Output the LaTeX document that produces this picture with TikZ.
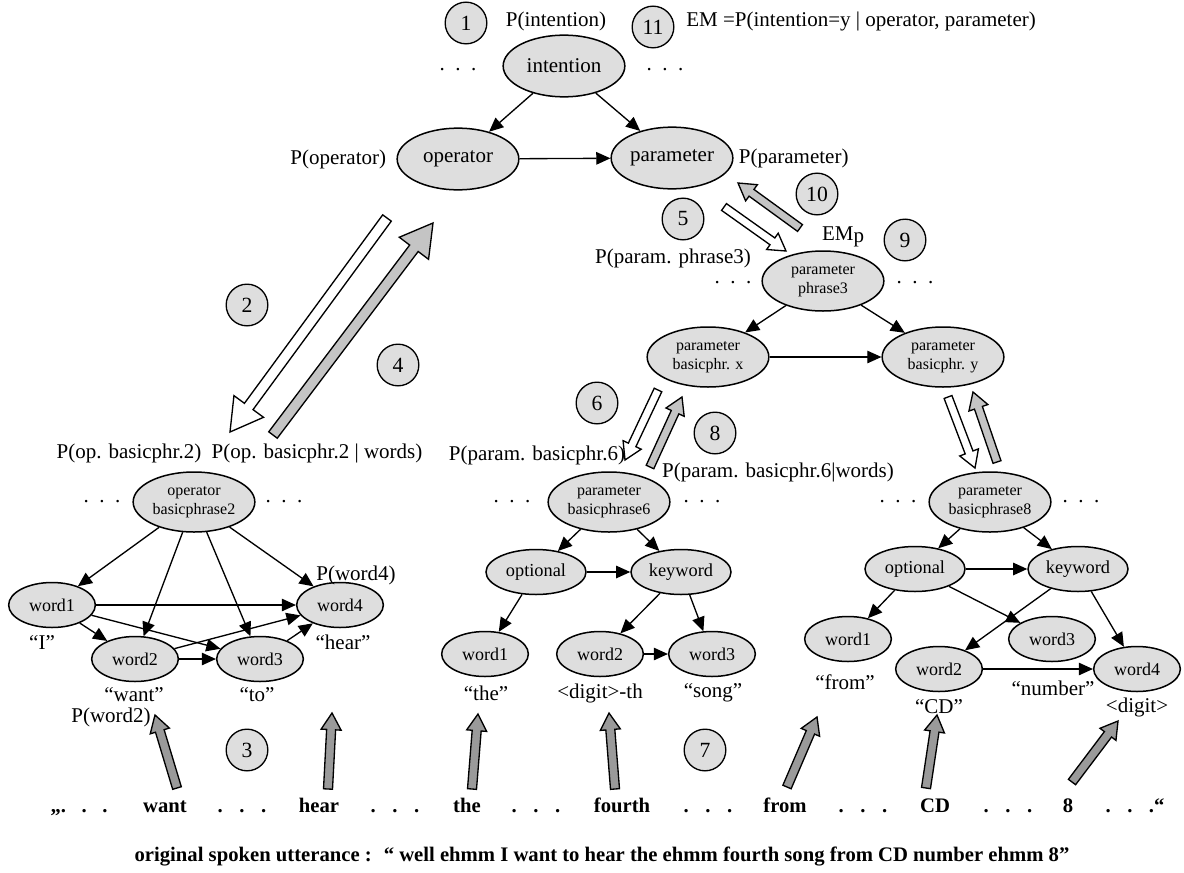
\documentclass[tikz,border=0pt]{standalone}
\usepackage{fontspec}
\setmainfont{Liberation Serif}
\usepackage{tikz}
\usetikzlibrary{shapes.geometric, arrows.meta, positioning, calc}
\definecolor{NodeGray}{HTML}{DEDEDE}
\definecolor{PassGray}{HTML}{C4C4C4}
\definecolor{WordGray}{HTML}{9A9A9A}
\newcommand\tdots[1]{.\hspace{#1}.\hspace{#1}.}
% fill, half shaft, half head, head length, tail, tip
\newcommand\blockarrow[6]{%
  \coordinate (hbase) at ($(#6)!#4!(#5)$);
  \filldraw[fill=#1, line width=0.8pt, line join=miter]
    ($(#5)!#2!90:(#6)$) -- ($(hbase)!#2!90:(#6)$) -- ($(hbase)!#3!90:(#6)$) -- (#6)
    -- ($(hbase)!#3!-90:(#6)$) -- ($(hbase)!#2!-90:(#6)$) -- ($(#5)!#2!-90:(#6)$) -- cycle;}

\begin{document}
\begin{tikzpicture}[x=0.6pt, y=-0.6pt,
  lbl/.style={font=\fontsize{12.6}{14}\selectfont, inner sep=0pt},
  num/.style={circle, draw, fill=NodeGray, line width=0.8pt, minimum size=25pt,
              inner sep=0pt, font=\fontsize{13}{14}\selectfont},
  bignode/.style={ellipse, draw, fill=NodeGray, line width=0.9pt, minimum width=73pt,
                  minimum height=37pt, inner sep=0pt, font=\fontsize{12.6}{14}\selectfont},
  phrnode/.style={ellipse, draw, fill=NodeGray, line width=0.9pt, minimum width=73pt,
                  minimum height=36pt, inner sep=0pt, align=center,
                  font=\fontsize{9.6}{11.4}\selectfont},
  midnode/.style={ellipse, draw, fill=NodeGray, line width=0.9pt, minimum width=60pt,
                  minimum height=27pt, inner sep=0pt, font=\fontsize{11}{13}\selectfont},
  wordnode/.style={ellipse, draw, fill=NodeGray, line width=0.9pt, minimum width=52pt,
                   minimum height=27pt, inner sep=0pt, font=\fontsize{10.8}{12}\selectfont},
  arr/.style={-{Triangle[length=8.5pt,width=7.5pt]}, line width=0.8pt},
  spoken/.style={font=\fontsize{12.4}{14}\selectfont\bfseries, inner sep=0pt, anchor=base}
]
  \useasboundingbox (0,0) rectangle (1184,872);

  % intention level
  \node[bignode] (intent) at (564,66) {intention};
  \node[bignode] (oper) at (458,159) {operator};
  \node[bignode] (param) at (672,158) {parameter};
  \node[lbl] (pint) at (556,21) {P(intention)};
  \node[lbl, anchor=west] (em) at (686,21) {EM =P(intention=y | operator, parameter)};
  \node[lbl, left=6pt of oper] (poper) {P(operator)};
  \node[lbl, right=3pt of param] (pparam) {P(parameter)};
  \node[lbl] (idl) at (458,70) {\tdots{0.5em}};
  \node[lbl] (idr) at (665,70) {\tdots{0.5em}};
  \draw[arr] (intent) -- (oper);
  \draw[arr] (intent) -- (param);
  \draw[arr] (oper) -- (param);

  % parameter phrase
  \node[phrnode] (phr3) at (823,281) {parameter\\phrase3};
  \node[phrnode] (bpx) at (708,357) {parameter\\basicphr. x};
  \node[phrnode] (bpy) at (943,357) {parameter\\basicphr. y};
  \node[lbl] (pphr3) at (673,258) {P(param. phrase3)};
  \node[lbl] (emp) at (843,237) {EM\raisebox{-1.5pt}{p}};
  \node[lbl] (pdl) at (733,283) {\tdots{0.5em}};
  \node[lbl] (pdr) at (915,283) {\tdots{0.5em}};
  \draw[arr] (phr3) -- (bpx);
  \draw[arr] (phr3) -- (bpy);
  \draw[arr] (bpx) -- (bpy);

  % operator basic phrase
  \node[phrnode] (opbp2) at (194,502) {operator\\basicphrase2};
  \node[lbl] (pop2) at (129,453) {P(op. basicphr.2)};
  \node[lbl] (pop2w) at (317,453) {P(op. basicphr.2 | words)};
  \node[lbl] (odl) at (102,502) {\tdots{0.5em}};
  \node[lbl] (odr) at (284,502) {\tdots{0.5em}};
  \node[wordnode] (lw1) at (52,605) {word1};
  \node[wordnode] (lw4) at (340,605) {word4};
  \node[wordnode] (lw2) at (135,659) {word2};
  \node[wordnode] (lw3) at (260,659) {word3};
  \node[lbl] (pw4) at (356,575) {P(word4)};
  \node[lbl] (tI) at (42,642) {“I”};
  \node[lbl] (thear) at (343,642) {“hear”};
  \node[lbl] (twant) at (134,695) {“want”};
  \node[lbl] (tto) at (257,695) {“to”};
  \node[lbl] (pw2) at (111,717) {P(word2)};
  \draw[arr] (opbp2) -- (lw1);
  \draw[arr] (opbp2) -- (lw2);
  \draw[arr] (opbp2) -- (lw3);
  \draw[arr] (opbp2) -- (lw4);
  \draw[arr] (lw1) -- (lw4);
  \draw[arr] (lw1) -- (lw2);
  \draw[arr] (lw1) -- (lw3);
  \draw[arr] (lw2) -- (lw3);
  \draw[arr] (lw2) -- (lw4);
  \draw[arr] (lw3) -- (lw4);

  % parameter basic phrase 6
  \node[phrnode] (bp6) at (609,502) {parameter\\basicphrase6};
  \node[lbl] (pbp6) at (537,455) {P(param. basicphr.6)};
  \node[lbl] (pbp6w) at (778,472) {P(param. basicphr.6|words)};
  \node[lbl] (mdl) at (512,502) {\tdots{0.5em}};
  \node[lbl] (mdr) at (702,502) {\tdots{0.5em}};
  \node[midnode] (mopt) at (536,572) {optional};
  \node[midnode] (mkey) at (681,572) {keyword};
  \node[wordnode] (mw1) at (485,654) {word1};
  \node[wordnode] (mw2) at (600,654) {word2};
  \node[wordnode] (mw3) at (712,654) {word3};
  \node[lbl] (tthe) at (486,693) {“the”};
  \node[lbl] (tdig) at (600,693) {<digit>-th};
  \node[lbl] (tsong) at (713,693) {“song”};
  \draw[arr] (bp6) -- (mopt);
  \draw[arr] (bp6) -- (mkey);
  \draw[arr] (mopt) -- (mkey);
  \draw[arr] (mopt) -- (mw1);
  \draw[arr] (mkey) -- (mw2);
  \draw[arr] (mkey) -- (mw3);
  \draw[arr] (mw2) -- (mw3);

  % parameter basic phrase 8
  \node[phrnode] (bp8) at (990,502) {parameter\\basicphrase8};
  \node[lbl] (rdl) at (898,502) {\tdots{0.5em}};
  \node[lbl] (rdr) at (1081,502) {\tdots{0.5em}};
  \node[midnode] (ropt) at (915,569) {optional};
  \node[midnode] (rkey) at (1078,569) {keyword};
  \node[wordnode] (rw1) at (848,639) {word1};
  \node[wordnode] (rw3) at (1052,639) {word3};
  \node[wordnode] (rw2) at (939,669) {word2};
  \node[wordnode] (rw4) at (1137,669) {word4};
  \node[lbl] (tfrom) at (845,682) {“from”};
  \node[lbl] (tcd) at (939,707) {“CD”};
  \node[lbl] (tnum) at (1053,688) {“number”};
  \node[lbl] (tdigit) at (1137,707) {<digit>};
  \draw[arr] (bp8) -- (ropt);
  \draw[arr] (bp8) -- (rkey);
  \draw[arr] (ropt) -- (rkey);
  \draw[arr] (ropt) -- (rw1);
  \draw[arr] (ropt) -- (rw3);
  \draw[arr] (rkey) -- (rw2);
  \draw[arr] (rkey) -- (rw4);
  \draw[arr] (rw2) -- (rw4);

  % step numbers
  \node[num] (c1) at (466,23) {1};
  \node[num] (c2) at (247,305) {2};
  \node[num] (c3) at (247,750) {3};
  \node[num] (c4) at (398,365) {4};
  \node[num] (c5) at (683,219) {5};
  \node[num] (c6) at (597,403) {6};
  \node[num] (c7) at (705,750) {7};
  \node[num] (c8) at (715,433) {8};
  \node[num] (c9) at (905,240) {9};
  \node[num] (c10) at (817,194) {10};
  \node[num] (c11) at (653,27) {11};

  % passing arrows
  \coordinate (a2t) at (387,218);  \coordinate (a2h) at (230,432);
  \coordinate (a4t) at (273,435);  \coordinate (a4h) at (433,223);
  \coordinate (a5t) at (724,207);  \coordinate (a5h) at (786,251);
  \coordinate (a10t) at (800,228); \coordinate (a10h) at (738,183);
  \coordinate (a6t) at (658,390);  \coordinate (a6h) at (625,460);
  \coordinate (a8t) at (650,467);  \coordinate (a8h) at (682,397);
  \coordinate (ayt) at (948,397);  \coordinate (ayh) at (975,468);
  \coordinate (azt) at (997,462);  \coordinate (azh) at (973,392);
  \blockarrow{white}{3.2pt}{11pt}{19pt}{a2t}{a2h}
  \blockarrow{PassGray}{3.2pt}{11pt}{19pt}{a4t}{a4h}
  \blockarrow{white}{2.5pt}{6pt}{10pt}{a5t}{a5h}
  \blockarrow{PassGray}{2.5pt}{6pt}{10pt}{a10t}{a10h}
  \blockarrow{white}{2.5pt}{6pt}{10pt}{a6t}{a6h}
  \blockarrow{PassGray}{2.5pt}{6pt}{10pt}{a8t}{a8h}
  \blockarrow{white}{2.5pt}{6pt}{10pt}{ayt}{ayh}
  \blockarrow{PassGray}{2.5pt}{6pt}{10pt}{azt}{azh}

  % spoken words
  \node[spoken] (s0) at (79,812) {„\tdots{0.75em}};
  \node[spoken] (swant) at (165,812) {want};
  \node[spoken] (s1) at (242,812) {\tdots{0.8em}};
  \node[spoken] (shear) at (319,812) {hear};
  \node[spoken] (s2) at (395,812) {\tdots{0.8em}};
  \node[spoken] (sthe) at (467,812) {the};
  \node[spoken] (s3) at (536,812) {\tdots{0.8em}};
  \node[spoken] (sfourth) at (622,812) {fourth};
  \node[spoken] (s4) at (708,812) {\tdots{0.8em}};
  \node[spoken] (sfrom) at (785,812) {from};
  \node[spoken] (s5) at (863,812) {\tdots{0.8em}};
  \node[spoken] (scd) at (935,812) {CD};
  \node[spoken] (s6) at (1008,812) {\tdots{0.8em}};
  \node[spoken] (s8) at (1068,812) {8};
  \node[spoken] (s7) at (1135,812) {\tdots{0.8em}“};
  \node[spoken] (utter) at (602,861) {original spoken utterance :~ “ well ehmm I want to hear the ehmm fourth song from CD number ehmm 8”};

  \coordinate (wantT) at (177,788);   \coordinate (wantH) at (155,715);
  \coordinate (hearT) at (328,789);   \coordinate (hearH) at (332,713);
  \coordinate (theT) at (472,789);    \coordinate (theH) at (478,714);
  \coordinate (fourthT) at (615,789); \coordinate (fourthH) at (609,713);
  \coordinate (fromT) at (787,787);   \coordinate (fromH) at (817,717);
  \coordinate (cdT) at (926,788);     \coordinate (cdH) at (937,715);
  \coordinate (eightT) at (1072,782); \coordinate (eightH) at (1118,721);
  \blockarrow{WordGray}{2.7pt}{6pt}{10pt}{wantT}{wantH}
  \blockarrow{WordGray}{2.7pt}{6pt}{10pt}{hearT}{hearH}
  \blockarrow{WordGray}{2.7pt}{6pt}{10pt}{theT}{theH}
  \blockarrow{WordGray}{2.7pt}{6pt}{10pt}{fourthT}{fourthH}
  \blockarrow{WordGray}{2.7pt}{6pt}{10pt}{fromT}{fromH}
  \blockarrow{WordGray}{2.7pt}{6pt}{10pt}{cdT}{cdH}
  \blockarrow{WordGray}{2.7pt}{6pt}{10pt}{eightT}{eightH}
\end{tikzpicture}
\end{document}
